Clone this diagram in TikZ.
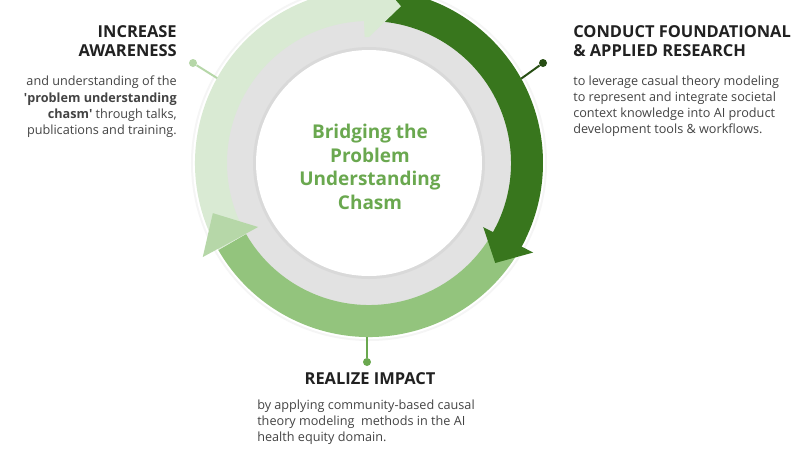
\documentclass[tikz,border=0pt]{standalone}
\usepackage{fontspec}
\setmainfont{Open Sans}
\definecolor{ringgray}{HTML}{E2E2E2}
\definecolor{litegreen}{HTML}{D9EAD3}
\definecolor{midgreen}{HTML}{93C47D}
\definecolor{midtip}{HTML}{B6D7A8}
\definecolor{darkgreen}{HTML}{38761D}
\definecolor{darkdot}{HTML}{274E13}
\definecolor{titlegreen}{HTML}{6AA84F}
\definecolor{headgray}{HTML}{212121}
\definecolor{bodygray}{HTML}{444444}

\begin{document}
\begin{tikzpicture}[x=.025cm,y=.025cm,
  hd/.style={font=\bfseries\fontsize{11.7}{13.5}\selectfont,text=headgray,inner sep=0},
  bd/.style={font=\fontsize{9}{11.4}\selectfont,text=bodygray,inner sep=0},
  dot/.style={circle,inner sep=0,minimum size=.2cm},
  lead/.style={line width=1.4pt}]
\useasboundingbox (-369,-287) rectangle (431,163);
\clip (-369,-287) rectangle (431,163);
\fill[white] (-369,-287) rectangle (431,163);
% ring
\fill[black!4] (0,0) circle (178);
\fill[white] (0,0) circle (176);
\fill[ringgray] (0,0) circle (150);
\fill[black!15] (0,0) circle (116);
\fill[white] (0,0) circle (113);
\foreach \c/\a/\b in {midgreen/-26/-150,litegreen/210/90,darkgreen/88/-29.5}
  \fill[\c] (\a:174) arc[start angle=\a,end angle=\b,radius=174] -- (\b:142) arc[start angle=\b,end angle=\a,radius=142] -- cycle;
\fill[litegreen] (90:126) -- (78.5:160) -- (90:194) -- (92:194) -- (92:126) -- cycle;
\fill[darkgreen] (-29.3:131) -- (-38.4:161) -- (-28.6:187) -- cycle;
\fill[midtip] (210:128) -- (197.8:164) -- (209.5:191) -- cycle;
% centre
\node[font=\bfseries\fontsize{13.5}{16.7}\selectfont,text=titlegreen,align=center] (title) at (1,-4) {Bridging the\\Problem\\Understanding\\Chasm};
% awareness
\node[dot,fill=midtip] (awdot) at (-176,100) {};
\coordinate (awring) at (150.8:174);
\draw[lead,midtip] (awdot) -- (awring);
\node[hd,align=right,anchor=north east] (awhead) at (-192,138) {INCREASE\\AWARENESS};
\node[bd,align=right,anchor=north east] (awtxt) at (-192,87) {and understanding of the\\\textbf{\textquotesingle problem understanding}\\\textbf{chasm\textquotesingle} through talks,\\publications and training.};
% research
\node[dot,fill=darkdot] (rsdot) at (174,100) {};
\coordinate (rsring) at (29:174);
\draw[lead,darkdot] (rsdot) -- (rsring);
\node[hd,align=left,anchor=north west] (rshead) at (204,138) {CONDUCT FOUNDATIONAL\\\& APPLIED RESEARCH};
\node[bd,align=left,anchor=north west] (rstxt) at (204,87) {to leverage casual theory modeling\\to represent and integrate societal\\context knowledge into AI product\\development tools \& workflows.};
% impact
\node[dot,fill=titlegreen] (imdot) at (-2,-199) {};
\coordinate (imring) at (-2,-174);
\draw[lead,titlegreen] (imdot) -- (imring);
\node[hd,anchor=north] (imhead) at (1,-209) {REALIZE IMPACT};
\node[bd,align=left,anchor=north west] (imtxt) at (-112,-237) {by applying community-based causal\\theory modeling~ methods in the AI\\health equity domain.};
\end{tikzpicture}
\end{document}
